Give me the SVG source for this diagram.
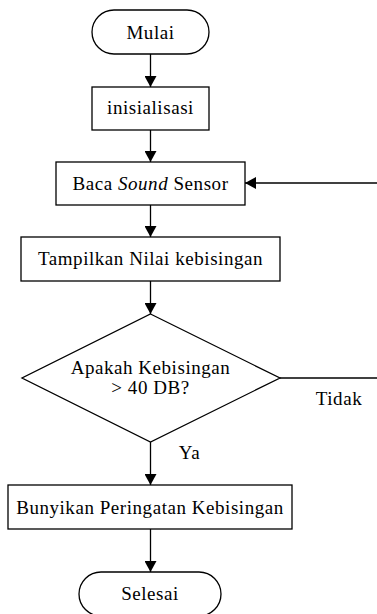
<svg xmlns="http://www.w3.org/2000/svg" width="377" height="614" viewBox="0 0 377 614">
<style>
.s{fill:#fff;stroke:#000;stroke-width:1.3}
.t{font-size:19px;letter-spacing:0.55px;fill:#000;text-anchor:middle}
.c{fill:none;stroke:#000;stroke-width:1.3}
</style>
<defs>
<marker id="ah" markerUnits="userSpaceOnUse" markerWidth="12" markerHeight="12" refX="11" refY="6" orient="auto">
<path d="M0,0 L11,6 L0,12 Z" fill="#000"/>
</marker>
</defs>
<rect width="377" height="614" fill="#fff"/>
<g font-family="'Liberation Serif', 'Times New Roman', 'DejaVu Serif', serif">
<g id="connectors">
<line class="c" x1="150.5" y1="54" x2="150.5" y2="87" marker-end="url(#ah)"/>
<line class="c" x1="150.5" y1="130" x2="150.5" y2="162" marker-end="url(#ah)"/>
<line class="c" x1="150.5" y1="205" x2="150.5" y2="237" marker-end="url(#ah)"/>
<line class="c" x1="150.5" y1="281" x2="150.5" y2="314" marker-end="url(#ah)"/>
<line class="c" x1="150.5" y1="442" x2="150.5" y2="485" marker-end="url(#ah)"/>
<line class="c" x1="150.5" y1="529" x2="150.5" y2="572" marker-end="url(#ah)"/>
<line class="c" x1="280" y1="378" x2="377" y2="378"/>
<line class="c" x1="377" y1="183" x2="245" y2="183" marker-end="url(#ah)"/>
<text class="t" x="339" y="405">Tidak</text>
<text class="t" x="189.5" y="459">Ya</text>
</g>
<g id="mulai">
<rect class="s" x="92" y="10" width="117" height="44" rx="22" ry="22"/>
<text class="t" x="150.5" y="39">Mulai</text>
</g>
<g id="inisialisasi">
<rect class="s" x="92" y="87" width="117" height="43"/>
<text class="t" x="150.5" y="114">inisialisasi</text>
</g>
<g id="baca">
<rect class="s" x="56" y="162" width="189" height="43"/>
<text class="t" x="150.5" y="190">Baca <tspan font-style="italic">Sound</tspan> Sensor</text>
</g>
<g id="tampilkan">
<rect class="s" x="21" y="237" width="259" height="44"/>
<text class="t" x="150.5" y="265">Tampilkan Nilai kebisingan</text>
</g>
<g id="keputusan">
<polygon class="s" points="150.5,314 280,378 150.5,442 22,378"/>
<text class="t" x="150.5" y="374">Apakah Kebisingan</text>
<text class="t" x="150.5" y="394">&gt; 40 DB?</text>
</g>
<g id="bunyikan">
<rect class="s" x="8" y="485" width="284" height="44"/>
<text class="t" x="150" y="514">Bunyikan Peringatan Kebisingan</text>
</g>
<g id="selesai">
<rect class="s" x="79" y="572" width="142" height="44" rx="22" ry="22"/>
<text class="t" x="150" y="600">Selesai</text>
</g>
</g>
</svg>
